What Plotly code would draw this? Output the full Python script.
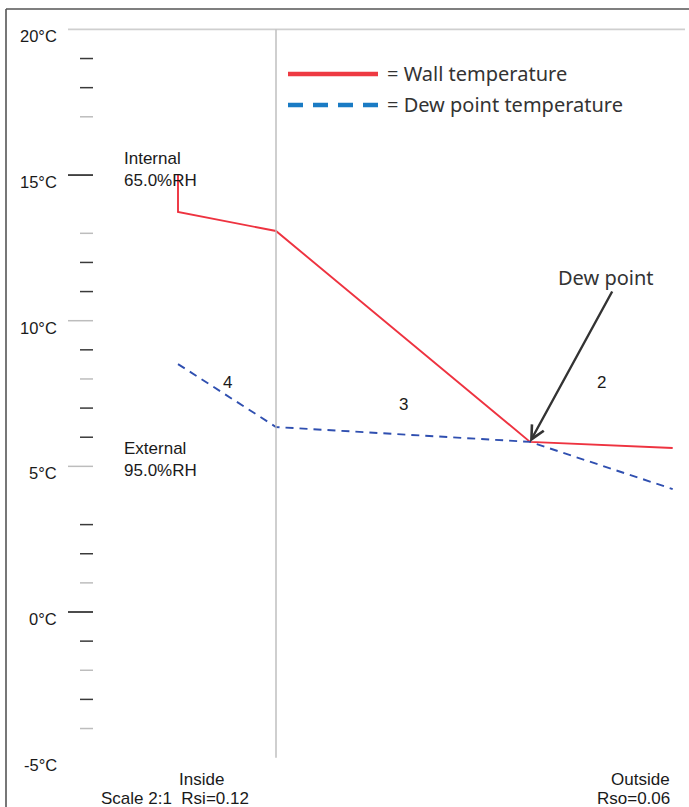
import plotly.graph_objects as go

# ---------------- data ----------------
interfaces_mm = [0.0, 12.5, 44.9, 63.1]          # wall layer interfaces (inside -> outside)
layer_names = ["4", "3", "2"]
wall_x = [0.0, 0.0, 12.5, 44.9, 63.1]
wall_temp = [15.0, 13.73, 13.08, 5.84, 5.63]
dew_x = [0.0, 12.5, 44.9, 63.1]
dew_temp = [8.51, 6.35, 5.84, 4.22]
dew_point_x = 44.9
dew_point_t = 5.84
major_ticks = [20, 15, 10, 5, 0, -5]
major_labels = ["20°C", "15°C", "10°C", "5°C", "0°C", "-5°C"]
minor_ticks = [19, 18, 17, 13, 12, 11, 9, 8, 7, 6, 3, 2, 1, -1, -2, -3, -4]
minor_dark = [1, 1, 0, 0, 1, 1, 1, 0, 1, 1, 1, 1, 0, 1, 0, 1, 0]
major_dark = [0, 1, 0, 0, 1, 0]
internal_label = ["Internal", "65.0%RH"]
external_label = ["External", "95.0%RH"]

# ---------------- layout helpers ----------------
W, H = 689, 807
X0PX, XSCALE = 178.0, 7.84      # px position of inside surface, px per mm
Y0PX, YSCALE = 612.0, 29.13     # px position of 0°C, px per °C


def px_x(p):
    return (p - X0PX) / XSCALE


def px_y(p):
    return (Y0PX - p) / YSCALE


def fx(p):
    return p / W


def fy(p):
    return 1 - p / H


DARK = "#3a3a3a"
LIGHT = "#bdbdbd"
ARIAL = "Liberation Sans, Arial, sans-serif"
UI = "Noto Sans, Open Sans, sans-serif"
TXT = "#1a1a1a"
FS = 17

fig = go.Figure()

fig.add_trace(go.Scatter(x=wall_x, y=wall_temp, mode="lines",
                         line=dict(color="#ee3340", width=1.9),
                         showlegend=False, hoverinfo="skip"))
fig.add_trace(go.Scatter(x=dew_x, y=dew_temp, mode="lines",
                         line=dict(color="#2f4fb0", width=1.9, dash="8px,6px"),
                         showlegend=False, hoverinfo="skip"))

shapes = []
# frame lines
shapes.append(dict(type="line", xref="paper", yref="paper", x0=fx(6), x1=1, y0=fy(9), y1=fy(9),
                   line=dict(color="#555555", width=1.6)))
shapes.append(dict(type="line", xref="paper", yref="paper", x0=fx(6), x1=fx(6), y0=fy(9), y1=0,
                   line=dict(color="#555555", width=1.6)))
# 20°C reference line
shapes.append(dict(type="line", xref="x", yref="y", x0=px_x(68), x1=px_x(685),
                   y0=major_ticks[0], y1=major_ticks[0], line=dict(color="#cfcfcf", width=1.8)))
# vertical interface line
shapes.append(dict(type="line", xref="x", yref="y", x0=interfaces_mm[1], x1=interfaces_mm[1],
                   y0=major_ticks[0], y1=major_ticks[-1], line=dict(color="#bbbbbb", width=1.4)))
# major ticks
for t, d in zip(major_ticks[1:-1], major_dark[1:-1]):
    shapes.append(dict(type="line", xref="x", yref="y", x0=px_x(68), x1=px_x(93), y0=t, y1=t,
                       line=dict(color="#111111" if d else LIGHT, width=1.5)))
# minor ticks
for t, d in zip(minor_ticks, minor_dark):
    shapes.append(dict(type="line", xref="x", yref="y", x0=px_x(80), x1=px_x(93), y0=t, y1=t,
                       line=dict(color=DARK if d else LIGHT, width=1.5)))
# legend samples
shapes.append(dict(type="line", xref="paper", yref="paper", x0=fx(288), x1=fx(378), y0=fy(74), y1=fy(74),
                   line=dict(color="#ee3a42", width=4.5)))
shapes.append(dict(type="line", xref="paper", yref="paper", x0=fx(288), x1=fx(378), y0=fy(105), y1=fy(105),
                   line=dict(color="#1a7bc4", width=4.5, dash="15px,10px")))

ann = []
# y tick labels
for t, lab in zip(major_ticks, major_labels):
    ann.append(dict(x=fx(59), xref="paper", y=t, yref="y", yshift=-7, text=lab, showarrow=False,
                    xanchor="right", yanchor="middle", font=dict(family=ARIAL, size=16.5, color=TXT)))
# internal / external
ann.append(dict(x=fx(122), xref="paper", y=fy(169), yref="paper", text="<br>".join(internal_label),
                showarrow=False, xanchor="left", yanchor="middle", align="left",
                font=dict(family=ARIAL, size=FS, color=TXT)))
ann.append(dict(x=fx(122), xref="paper", y=fy(459), yref="paper", text="<br>".join(external_label),
                showarrow=False, xanchor="left", yanchor="middle", align="left",
                font=dict(family=ARIAL, size=FS, color=TXT)))
# layer numbers
layer_pos_y = [383, 404, 382]
for i, name in enumerate(layer_names):
    ann.append(dict(x=(interfaces_mm[i] + interfaces_mm[i + 1]) / 2, xref="x", y=fy(layer_pos_y[i]), yref="paper",
                    text=name, showarrow=False, xanchor="center", yanchor="middle",
                    font=dict(family=ARIAL, size=FS, color=TXT)))
# legend texts
ann.append(dict(x=fx(385), xref="paper", y=fy(73), yref="paper", text="= Wall temperature", showarrow=False,
                xanchor="left", yanchor="middle", font=dict(family=UI, size=20, color="#333")))
ann.append(dict(x=fx(385), xref="paper", y=fy(104), yref="paper", text="= Dew point temperature", showarrow=False,
                xanchor="left", yanchor="middle", font=dict(family=UI, size=20, color="#333")))
# dew point arrow
ann.append(dict(x=dew_point_x, y=dew_point_t, xref="x", yref="y", ax=px_x(613), ay=px_y(290),
                axref="x", ayref="y", text="", showarrow=True, arrowhead=5, arrowsize=1.1,
                arrowwidth=2.4, arrowcolor="#333333", standoff=0))
ann.append(dict(x=fx(606), xref="paper", y=fy(277), yref="paper", text="Dew point", showarrow=False,
                xanchor="center", yanchor="middle", font=dict(family=UI, size=20, color="#333")))
# bottom texts
ann.append(dict(x=fx(201), xref="paper", y=fy(779), yref="paper", text="Inside", showarrow=False,
                xanchor="center", yanchor="middle", font=dict(family=ARIAL, size=FS, color=TXT)))
ann.append(dict(x=fx(251), xref="paper", y=fy(798), yref="paper", text="Scale 2:1&nbsp;&nbsp;Rsi=0.12",
                showarrow=False, xanchor="right", yanchor="middle", font=dict(family=ARIAL, size=FS, color=TXT)))
ann.append(dict(x=fx(672), xref="paper", y=fy(779), yref="paper", text="Outside", showarrow=False,
                xanchor="right", yanchor="middle", font=dict(family=ARIAL, size=FS, color=TXT)))
ann.append(dict(x=fx(672), xref="paper", y=fy(798), yref="paper", text="Rso=0.06", showarrow=False,
                xanchor="right", yanchor="middle", font=dict(family=ARIAL, size=FS, color=TXT)))

fig.update_layout(
    width=W, height=H, margin=dict(l=0, r=0, t=0, b=0),
    paper_bgcolor="white", plot_bgcolor="white",
    xaxis=dict(range=[px_x(0), px_x(W)], visible=False, fixedrange=True),
    yaxis=dict(range=[px_y(H), px_y(0)], visible=False, fixedrange=True),
    shapes=shapes, annotations=ann, showlegend=False,
)

fig.write_html("out.html", config={"displayModeBar": False},
               post_script="document.body.style.margin='0';document.body.style.overflow='hidden';")
